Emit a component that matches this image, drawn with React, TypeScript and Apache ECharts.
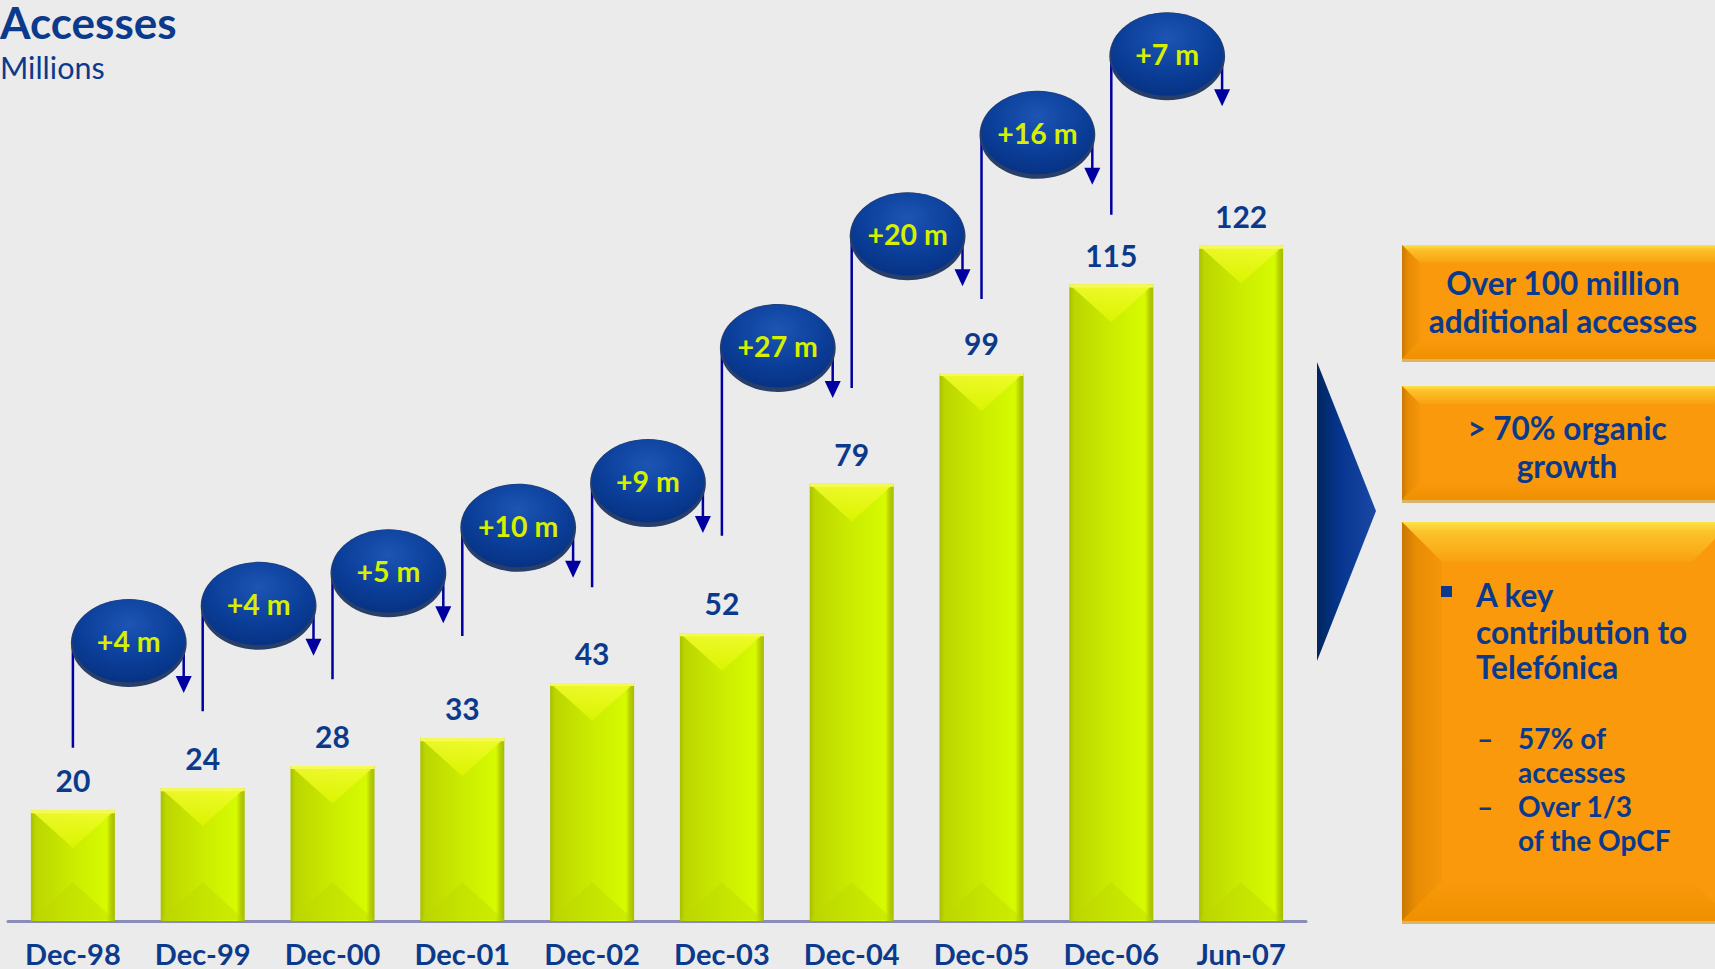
import React, { useEffect, useRef } from 'react';
import * as echarts from 'echarts';

// ---- data ----
const categories = ['Dec-98', 'Dec-99', 'Dec-00', 'Dec-01', 'Dec-02', 'Dec-03', 'Dec-04', 'Dec-05', 'Dec-06', 'Jun-07'];
const accesses = [20, 24, 28, 33, 43, 52, 79, 99, 115, 122];
const incrementValues = [4, 4, 5, 10, 9, 27, 20, 16, 7];

// ---- annotation layout (axis units) ----
const bubbleLevel = [50.6, 57.3, 63.2, 71.4, 79.5, 103.9, 124.1, 142.4, 156.6];
const connectorBottom = [31.3, 37.9, 43.7, 51.5, 60.3, 69.6, 96.3, 112.4, 127.6];

const NAVY = '#0b3a8c';
const ARROW = '#0000a0';
const LIME = '#d6f000';
const FONT = 'Lato';

function makeBox(x: number, y: number, w: number, h: number, bev: number) {
  return {
    type: 'group',
    children: [
      { type: 'rect', shape: { x, y, width: w, height: h + 3 }, style: { fill: '#d9b56a' } },
      { type: 'rect', shape: { x, y, width: w, height: h }, style: { fill: '#f9990b' } },
      {
        type: 'polygon',
        shape: { points: [[x, y], [x + w, y], [x + w - bev, y + bev], [x + bev, y + bev]] },
        style: {
          fill: new echarts.graphic.LinearGradient(0, 0, 0, 1, [
            { offset: 0, color: '#ffe24a' },
            { offset: 0.25, color: '#fcc22a' },
            { offset: 1, color: '#f9a110' },
          ]),
        },
      },
      {
        type: 'polygon',
        shape: { points: [[x, y], [x + bev, y + bev], [x + bev, y + h - bev], [x, y + h]] },
        style: {
          fill: new echarts.graphic.LinearGradient(0, 0, 1, 0, [
            { offset: 0, color: '#c97900' },
            { offset: 0.35, color: '#e88c04' },
            { offset: 1, color: '#f5960a' },
          ]),
        },
      },
      {
        type: 'polygon',
        shape: { points: [[x, y + h], [x + bev, y + h - bev], [x + w - bev, y + h - bev], [x + w, y + h]] },
        style: {
          fill: new echarts.graphic.LinearGradient(0, 0, 0, 1, [
            { offset: 0, color: '#f9990b' },
            { offset: 1, color: '#ee9000' },
          ]),
        },
      },
    ],
  };
}

function txt(text: string, x: number, y: number, size: number, align = 'center', weight = 'bold', vAlign = 'middle') {
  return {
    type: 'text',
    style: {
      text,
      x,
      y,
      fill: NAVY,
      font: `${weight} ${size}px ${FONT}`,
      textAlign: align,
      textVerticalAlign: vAlign,
    },
  };
}

export default function App() {
  const ref = useRef<HTMLDivElement>(null);

  useEffect(() => {
    document.body.style.margin = '0';
    const chart = echarts.init(ref.current!, null, { renderer: 'svg' });

    const option: any = {
      animation: false,
      backgroundColor: '#ebebeb',
      grid: { left: 8, right: 409, top: 41, bottom: 48 },
      xAxis: {
        type: 'category',
        data: categories,
        axisLine: { show: true, lineStyle: { color: '#8a8db8', width: 3 } },
        axisTick: { show: false },
        axisLabel: {
          color: NAVY,
          fontFamily: FONT,
          fontWeight: 'bold',
          fontSize: 29,
          lineHeight: 28,
          margin: 18,
        },
      },
      yAxis: { type: 'value', min: 0, max: 159, show: false, splitLine: { show: false } },
      series: [
        {
          type: 'bar',
          data: accesses,
          barWidth: 84,
          z: 2,
          itemStyle: {
            color: new echarts.graphic.LinearGradient(0, 0, 1, 0, [
              { offset: 0, color: '#a8bf00' },
              { offset: 0.06, color: '#bcd600' },
              { offset: 0.5, color: '#cbec00' },
              { offset: 0.9, color: '#d6fb00' },
              { offset: 0.95, color: '#b8d000' },
              { offset: 1, color: '#a4bc00' },
            ]),
          },
          label: {
            show: true,
            position: 'top',
            distance: 15,
            color: NAVY,
            fontFamily: FONT,
            fontWeight: 'bold',
            fontSize: 30,
          },
        },
        {
          type: 'custom',
          z: 3,
          clip: false,
          silent: true,
          data: accesses.map((v, i) => [i, v]),
          renderItem: (params: any, api: any) => {
            const i = api.value(0);
            const v = api.value(1);
            const top = api.coord([i, v]);
            const base = api.coord([i, 0]);
            const w = 84;
            const x0 = top[0] - w / 2;
            const x1 = top[0] + w / 2;
            const yt = top[1];
            const yb = base[1] - 1;
            const d = w * 0.45;
            return {
              type: 'group',
              children: [
                {
                  type: 'polygon',
                  shape: { points: [[x0, yt], [x1, yt], [top[0], yt + d]] },
                  style: {
                    fill: new echarts.graphic.LinearGradient(0, 0, 0, 1, [
                      { offset: 0, color: '#f2fb30' },
                      { offset: 1, color: '#dcf500' },
                    ]),
                    opacity: 0.9,
                  },
                },
                {
                  type: 'polygon',
                  shape: { points: [[x0, yb], [x1, yb], [top[0], yb - d]] },
                  style: { fill: '#bcd800', opacity: 0.4 },
                },
                { type: 'rect', shape: { x: x0, y: yt, width: w, height: 3 }, style: { fill: '#f6fa58' } },
              ],
            };
          },
        },
        {
          type: 'custom',
          z: 4,
          clip: false,
          silent: true,
          data: incrementValues.map((v, i) => [i, bubbleLevel[i], connectorBottom[i], v]),
          renderItem: (params: any, api: any) => {
            const i = api.value(0);
            const c0 = api.coord([i, api.value(1)]);
            const c1 = api.coord([i + 1, api.value(1)]);
            const lb = api.coord([i, api.value(2)]);
            const label = `+${incrementValues[params.dataIndex]} m`;
            const left = c0[0] - 2;
            const right = c1[0] - 16;
            const cx = (left + right) / 2;
            const cy = c0[1];
            const rx = (right - left) / 2;
            const ry = 44;
            const ax = right - 3;
            const tip = cy + 52;
            return {
              type: 'group',
              children: [
                {
                  type: 'polyline',
                  shape: { points: [[c0[0], lb[1]], [c0[0], cy + 6], [cx, cy + 6]] },
                  style: { stroke: ARROW, lineWidth: 2.5, fill: null },
                },
                {
                  type: 'line',
                  shape: { x1: ax, y1: cy, x2: ax, y2: tip - 14 },
                  style: { stroke: ARROW, lineWidth: 2.5 },
                },
                {
                  type: 'polygon',
                  shape: { points: [[ax - 8, tip - 17], [ax + 8, tip - 17], [ax, tip]] },
                  style: { fill: ARROW },
                },
                {
                  type: 'ellipse',
                  shape: { cx, cy: cy + 2, rx, ry },
                  style: { fill: '#2a3f68' },
                },
                {
                  type: 'ellipse',
                  shape: { cx, cy, rx: rx - 1.5, ry: ry - 2.5 },
                  style: {
                    fill: new echarts.graphic.RadialGradient(0.5, 0.3, 0.75, [
                      { offset: 0, color: '#1d55b4' },
                      { offset: 0.55, color: '#0b3f9a' },
                      { offset: 1, color: '#063080' },
                    ]),
                  },
                },
                {
                  type: 'text',
                  style: {
                    text: label,
                    x: cx,
                    y: cy,
                    fill: LIME,
                    font: `bold 28.5px ${FONT}`,
                    textAlign: 'center',
                    textVerticalAlign: 'middle',
                  },
                },
              ],
            };
          },
        },
      ],
      graphic: [
        txt('Accesses', 0, 0, 44, 'left', 'bold', 'top'),
        txt('Millions', 0, 67, 30.5, 'left', 'normal'),
        {
          type: 'polygon',
          shape: { points: [[1317, 362], [1376, 511], [1317, 661]] },
          style: {
            fill: new echarts.graphic.LinearGradient(0, 0, 1, 0, [
              { offset: 0, color: '#00265f' },
              { offset: 0.4, color: '#073690' },
              { offset: 1, color: '#1a49a6' },
            ]),
          },
        },
        makeBox(1402, 245, 330, 114, 18),
        makeBox(1402, 386, 330, 114, 18),
        makeBox(1402, 522, 330, 399, 40),
        txt('Over 100 million', 1563, 283, 31.5),
        txt('additional accesses', 1563, 321, 31.5),
        txt('> 70% organic', 1567, 428, 31.5),
        txt('growth', 1567, 466, 31.5),
        { type: 'rect', shape: { x: 1441, y: 586, width: 11, height: 11 }, style: { fill: NAVY } },
        txt('A key', 1476, 595, 31.5, 'left'),
        txt('contribution to', 1476, 632, 31.5, 'left'),
        txt('Telefónica', 1476, 667, 31.5, 'left'),
        txt('–', 1477, 738, 28, 'left'),
        txt('57% of', 1518, 738, 28, 'left'),
        txt('accesses', 1518, 772, 28, 'left'),
        txt('–', 1477, 806, 28, 'left'),
        txt('Over 1/3', 1518, 806, 28, 'left'),
        txt('of the OpCF', 1518, 840, 28, 'left'),
      ],
    };

    chart.setOption(option);
    return () => chart.dispose();
  }, []);

  return (
    <div
      ref={ref}
      style={{ position: 'absolute', left: 0, top: 0, width: 1715, height: 969, background: '#ebebeb' }}
    />
  );
}
